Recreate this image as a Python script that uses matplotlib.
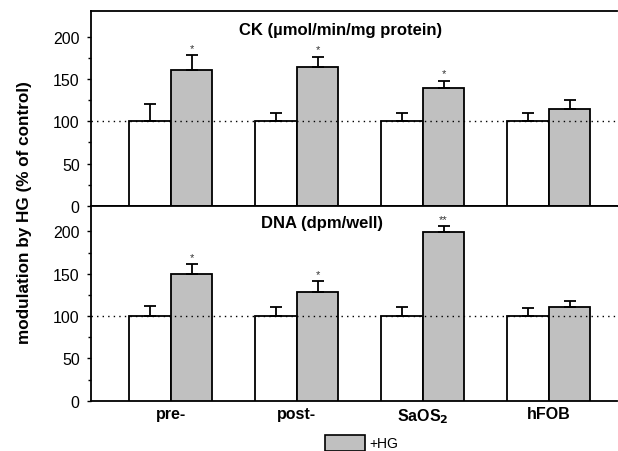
import matplotlib
matplotlib.use("Agg")
import matplotlib.pyplot as plt
import numpy as np
from matplotlib.patches import Patch

plt.rcParams['font.family'] = ['Liberation Sans', 'DejaVu Sans']

# cell lines
groups = ['pre-', 'post-', 'SaOS$_\\mathbf{2}$', 'hFOB']

# CK activity, % of control
ck_ctrl = [100, 100, 100, 100]
ck_ctrl_err = [20, 10, 10, 10]
ck_hg = [160, 164, 139, 114]
ck_hg_err = [18, 12, 9, 11]
ck_marks = ['*', '*', '*', '']

# DNA synthesis, % of control
dna_ctrl = [100, 100, 100, 100]
dna_ctrl_err = [12, 11, 11, 10]
dna_hg = [150, 128, 199, 111]
dna_hg_err = [11, 13, 7, 7]
dna_marks = ['*', '*', '**', '']

GRAY = '#c0c0c0'


def draw_panel(ax, ctrl, ctrl_err, hg, hg_err, marks, title, title_x, title_y):
    x = np.arange(len(ctrl))
    w = 0.33
    ax.bar(x - w / 2, ctrl, w, color='white', edgecolor='black', linewidth=1.3,
           yerr=[np.zeros(len(ctrl)), ctrl_err], capsize=4,
           error_kw=dict(elinewidth=1.3, capthick=1.3, ecolor='black'), zorder=3)
    ax.bar(x + w / 2, hg, w, color=GRAY, edgecolor='black', linewidth=1.3,
           yerr=[np.zeros(len(hg)), hg_err], capsize=4,
           error_kw=dict(elinewidth=1.3, capthick=1.3, ecolor='black'), zorder=3)
    for i, m in enumerate(marks):
        if m:
            ax.text(x[i] + w / 2, hg[i] + hg_err[i] + 3, m, ha='center', va='bottom',
                    fontsize=8, color='#333333')
    ax.axhline(100, color='black', linestyle=(0, (1, 3)), linewidth=1.0, zorder=4)
    ax.set_xlim(-0.635, 3.54)
    ax.set_ylim(0, 230)
    ax.set_yticks([0, 50, 100, 150, 200])
    ax.set_yticks([25, 75, 125, 175], minor=True)
    ax.tick_params(axis='y', direction='out', length=3, width=1, labelsize=11.5, pad=5)
    ax.tick_params(axis='y', which='minor', direction='out', length=2, width=1)
    ax.text(title_x, title_y, title, transform=ax.transAxes, ha='center', va='center',
            fontsize=12, fontweight='bold')
    for s in ax.spines.values():
        s.set_linewidth(1.3)
    ax.spines['right'].set_visible(False)


fig = plt.figure(figsize=(6.18, 4.52), dpi=100)
ax1 = fig.add_axes([0.147, 0.542, 0.851, 0.431])
ax2 = fig.add_axes([0.147, 0.111, 0.851, 0.431])

draw_panel(ax1, ck_ctrl, ck_ctrl_err, ck_hg, ck_hg_err, ck_marks,
           'CK (\u00b5mol/min/mg protein)', 0.475, 0.905)
draw_panel(ax2, dna_ctrl, dna_ctrl_err, dna_hg, dna_hg_err, dna_marks,
           'DNA (dpm/well)', 0.44, 0.915)

ax1.set_xticks([])
ax2.set_xticks(np.arange(len(groups)))
ax2.set_xticklabels(groups, fontsize=11.5, fontweight='bold')
ax2.tick_params(axis='x', length=0, pad=4)

fig.text(0.04, 0.529, 'modulation by HG (% of control)', rotation=90,
         ha='center', va='center', fontsize=12.3, fontweight='bold')

fig.legend(handles=[Patch(facecolor=GRAY, edgecolor='black', linewidth=1.2, label='+HG')],
           loc='center', bbox_to_anchor=(0.585, 0.018), frameon=False, fontsize=10,
           handlelength=2.9, handleheight=1.35, handletextpad=0.3, borderpad=0)

fig.savefig('out.png', dpi=100)
